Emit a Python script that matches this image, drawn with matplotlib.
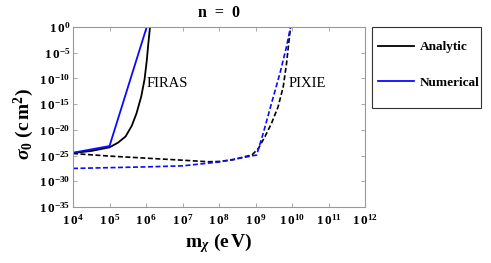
import matplotlib
matplotlib.use('Agg')
import matplotlib.pyplot as plt
import numpy as np
from matplotlib.ticker import FixedLocator, FuncFormatter
from matplotlib.patches import Rectangle

plt.rcParams['font.family'] = ['Liberation Serif', 'DejaVu Serif']
plt.rcParams['mathtext.fontset'] = 'custom'
plt.rcParams['mathtext.rm'] = 'Liberation Serif:bold'
plt.rcParams['mathtext.bf'] = 'Liberation Serif:bold'
plt.rcParams['mathtext.it'] = 'Liberation Serif:italic:bold'

# log10 values
firas_an_x = [4, 4.5, 5, 5.23, 5.44, 5.61, 5.74, 5.87, 5.96, 6.02, 6.06, 6.11]
firas_an_y = [-24.5, -24.1, -23.4, -22.5, -21.3, -19.2, -16.8, -13.5, -10.2, -6.6, -3.5, 0]
firas_num_x = [4, 5, 6.02]
firas_num_y = [-24.45, -23.15, 0]
pixie_an_x = [4, 5, 6, 7, 7.7, 8, 8.4, 8.71, 8.9, 9.08, 9.26, 9.44, 9.62, 9.76, 9.85, 9.9, 9.96]
pixie_an_y = [-24.6, -25.1, -25.5, -25.9, -26.2, -26.15, -25.8, -25.2, -24.9, -23.6, -21.3, -18.7,
              -15.5, -11.6, -7.1, -3.8, 0]
pixie_num_x = [4, 5, 6, 7, 8, 9.03, 9.21, 9.44, 9.67, 9.85, 9.96]
pixie_num_y = [-27.5, -27.35, -27.2, -27.0, -26.25, -24.9, -20.7, -14.8, -9.0, -3.8, 0]

xticks_exp = list(range(4, 13))
yticks_exp = list(range(-35, 1, 5))

fig = plt.figure(figsize=(4.91, 2.63), dpi=100)
ax = fig.add_axes([73/491, 1-207/263, 292/491, 180/263])

def p(v):
    return 10.0 ** np.array(v)

blue = '#0a0aff'
ax.plot(p(firas_an_x), p(firas_an_y), color='black', lw=1.3, label='Analytic')
ax.plot(p(firas_num_x), p(firas_num_y), color=blue, lw=1.3, label='Numerical')
ax.plot(p(pixie_an_x), p(pixie_an_y), color='black', lw=1.2, ls=(0, (3, 1.5)))
ax.plot(p(pixie_num_x), p(pixie_num_y), color=blue, lw=1.2, ls=(0, (3, 1.5)))

ax.set_xscale('log')
ax.set_yscale('log')
ax.set_xlim(1e4, 1e12)
ax.set_ylim(1e-35, 1e0)
ax.xaxis.set_major_locator(FixedLocator([10.0**e for e in xticks_exp]))
ax.yaxis.set_major_locator(FixedLocator([10.0**e for e in yticks_exp]))
ax.xaxis.set_minor_locator(FixedLocator([]))
ax.yaxis.set_minor_locator(FixedLocator([]))
fmt = FuncFormatter(lambda v, pos: r'$\mathbf{1\,0^{%d}}$' % round(np.log10(v)))
ax.xaxis.set_major_formatter(fmt)
ax.yaxis.set_major_formatter(fmt)
ax.tick_params(direction='in', top=True, right=True, length=3, width=0.6,
               color='#999999', labelsize=9.5)
ax.tick_params(axis='x', pad=4)
ax.tick_params(axis='y', pad=2)
for s in ax.spines.values():
    s.set_color('#999999')
    s.set_linewidth(0.8)

ax.text(10**6.03, 10**-10.9, 'FIRAS', fontsize=10.5, va='center', ha='left')
ax.text(10**9.92, 10**-10.9, 'PIXIE', fontsize=10.5, va='center', ha='left')

ax.set_title('n  =  0', fontsize=11.5, fontweight='bold', pad=7)
ax.set_xlabel(r'$\mathbf{m}_{\chi}$ $\mathbf{(e\,V)}$', fontsize=14, labelpad=3)
ax.set_ylabel(r'$\sigma_{\mathbf{0}}$ $\mathbf{(c\,m^{2})}$', fontsize=14)
ax.yaxis.set_label_coords(-0.128, 0.46)

leg = ax.legend(loc='upper left', bbox_to_anchor=(378/491, 1-41/263),
                bbox_transform=fig.transFigure, frameon=False,
                prop={'weight': 'bold', 'size': 9.5}, handlelength=2.7,
                labelspacing=1.75, borderpad=0, handletextpad=0.45, borderaxespad=0)
fig.add_artist(Rectangle((372/491, 1-108/263), 109/491, 81/263, transform=fig.transFigure,
                         fill=False, edgecolor='#333333', lw=0.8))

fig.savefig('out.png', dpi=100)
